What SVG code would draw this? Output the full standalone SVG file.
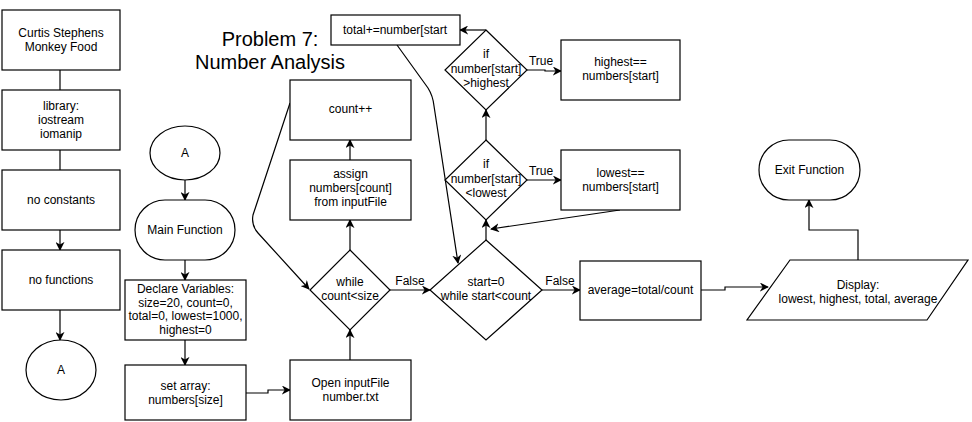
<svg xmlns="http://www.w3.org/2000/svg" width="972" height="422" viewBox="0 0 972 422">
<style>
  .s{fill:#fff;stroke:#000;stroke-width:1.2}
  .t{font-family:"Liberation Sans",Arial,sans-serif;font-size:12px;fill:#000;text-anchor:middle}
  .title{font-family:"Liberation Sans",Arial,sans-serif;font-size:20px;fill:#000;text-anchor:middle}
  .e{fill:none;stroke:#000;stroke-width:1.2}
  .a{marker-end:url(#arr)}
</style>
<defs>
  <marker id="arr" viewBox="0 0 10 10" refX="9" refY="5" markerWidth="9" markerHeight="9" markerUnits="userSpaceOnUse" orient="auto">
    <path d="M0,0 L10,5 L0,10 L3,5 z" fill="#000"/>
  </marker>
</defs>
<rect width="972" height="422" fill="#fff"/>

<g id="connectors">
  <path class="e" d="M60,70 V90"/>
  <path class="e" d="M60,150 V170"/>
  <path class="e a" d="M60,230 V250"/>
  <path class="e a" d="M60,310 V340"/>
  <path class="e a" d="M185,180 V200"/>
  <path class="e a" d="M185,260 V280"/>
  <path class="e a" d="M185,340 V365"/>
  <path class="e a" d="M246,393 H268 V390 H290"/>
  <path class="e a" d="M350,360 V330"/>
  <path class="e a" d="M350,250 V220"/>
  <path class="e a" d="M350,160 V140"/>
  <path class="e a" d="M290,103 L253,215 Q251,225 258,233 L309,289"/>
  <path class="e a" d="M390,290 H430"/>
  <path class="e a" d="M486,240 V220"/>
  <path class="e a" d="M486,140 V110"/>
  <path class="e a" d="M486,30 H460"/>
  <path class="e a" d="M527,70 H545 V71 H561"/>
  <path class="e a" d="M527,180 H561"/>
  <path class="e a" d="M620,210 L491,229"/>
  <path class="e a" d="M397,45 L428,88 Q433,96 434,106 L458,263"/>
  <path class="e a" d="M542,290 H580"/>
  <path class="e a" d="M701,290 H725 V287 H768"/>
  <path class="e a" d="M858,260 V230 H809 V200"/>
  <text class="t" x="410" y="285">False</text>
  <text class="t" x="560" y="285">False</text>
  <text class="t" x="541" y="65">True</text>
  <text class="t" x="541" y="175">True</text>
</g>

<g id="title">
  <text class="title" x="270" y="46">Problem 7:</text>
  <text class="title" x="270" y="69">Number Analysis</text>
</g>

<g id="n-author">
  <rect class="s" x="2" y="10" width="118" height="60"/>
  <text class="t" x="61" y="37">Curtis Stephens</text>
  <text class="t" x="61" y="51">Monkey Food</text>
</g>
<g id="n-library">
  <rect class="s" x="2" y="90" width="118" height="60"/>
  <text class="t" x="61" y="110">library:</text>
  <text class="t" x="61" y="124">iostream</text>
  <text class="t" x="61" y="138">iomanip</text>
</g>
<g id="n-constants">
  <rect class="s" x="2" y="170" width="118" height="60"/>
  <text class="t" x="61" y="204">no constants</text>
</g>
<g id="n-functions">
  <rect class="s" x="2" y="250" width="118" height="60"/>
  <text class="t" x="61" y="284">no functions</text>
</g>
<g id="n-A1">
  <ellipse class="s" cx="61" cy="370" rx="35" ry="30"/>
  <text class="t" x="61" y="374">A</text>
</g>
<g id="n-A2">
  <ellipse class="s" cx="185" cy="153" rx="35" ry="27"/>
  <text class="t" x="185" y="157">A</text>
</g>
<g id="n-main">
  <rect class="s" x="135" y="200" width="100" height="60" rx="30" ry="30"/>
  <text class="t" x="185" y="234">Main Function</text>
</g>
<g id="n-declare">
  <rect class="s" x="125" y="280" width="121" height="60"/>
  <text class="t" x="185.500" y="293">Declare Variables:</text>
  <text class="t" x="185.500" y="307">size=20, count=0,</text>
  <text class="t" x="185.500" y="320">total=0, lowest=1000,</text>
  <text class="t" x="185.500" y="334">highest=0</text>
</g>
<g id="n-array">
  <rect class="s" x="125" y="365" width="121" height="55"/>
  <text class="t" x="185.500" y="390">set array:</text>
  <text class="t" x="185.500" y="404">numbers[size]</text>
</g>
<g id="n-open">
  <rect class="s" x="290" y="360" width="121" height="60"/>
  <text class="t" x="350.500" y="387">Open inputFile</text>
  <text class="t" x="350.500" y="401">number.txt</text>
</g>
<g id="n-while1">
  <polygon class="s" points="350,250 390,290 350,330 310,290"/>
  <text class="t" x="350" y="286">while</text>
  <text class="t" x="350" y="300">count&lt;size</text>
</g>
<g id="n-assign">
  <rect class="s" x="290" y="160" width="121" height="60"/>
  <text class="t" x="350.500" y="178">assign</text>
  <text class="t" x="350.500" y="192">numbers[count]</text>
  <text class="t" x="350.500" y="206">from inputFile</text>
</g>
<g id="n-countpp">
  <rect class="s" x="290" y="80" width="121" height="60"/>
  <text class="t" x="350.500" y="113">count++</text>
</g>
<g id="n-total">
  <rect class="s" x="331" y="15" width="129" height="30"/>
  <text class="t" x="395" y="34">total+=number[start</text>
</g>
<g id="n-while2">
  <polygon class="s" points="486,240 542,290 486,340 430,290"/>
  <text class="t" x="486" y="286">start=0</text>
  <text class="t" x="486" y="300">while start&lt;count</text>
</g>
<g id="n-iflow">
  <polygon class="s" points="486,140 527,180 486,220 445,180"/>
  <text class="t" x="486" y="168">if</text>
  <text class="t" x="486" y="183">number[start]</text>
  <text class="t" x="486" y="197">&lt;lowest</text>
</g>
<g id="n-ifhigh">
  <polygon class="s" points="486,30 527,70 486,110 445,70"/>
  <text class="t" x="486" y="58">if</text>
  <text class="t" x="486" y="73">number[start]</text>
  <text class="t" x="486" y="87">&gt;highest</text>
</g>
<g id="n-highest">
  <rect class="s" x="561" y="40" width="119" height="60"/>
  <text class="t" x="620.500" y="66">highest==</text>
  <text class="t" x="620.500" y="80">numbers[start]</text>
</g>
<g id="n-lowest">
  <rect class="s" x="561" y="150" width="119" height="60"/>
  <text class="t" x="620.500" y="177">lowest==</text>
  <text class="t" x="620.500" y="191">numbers[start]</text>
</g>
<g id="n-average">
  <rect class="s" x="580" y="261" width="121" height="59"/>
  <text class="t" x="640.500" y="294">average=total/count</text>
</g>
<g id="n-display">
  <polygon class="s" points="790,260 968,260 927,320 747,320"/>
  <text class="t" x="858" y="289">Display:</text>
  <text class="t" x="858" y="303">lowest, highest, total, average</text>
</g>
<g id="n-exit">
  <rect class="s" x="759" y="140" width="101" height="60" rx="30" ry="30"/>
  <text class="t" x="809.500" y="174">Exit Function</text>
</g>
</svg>
